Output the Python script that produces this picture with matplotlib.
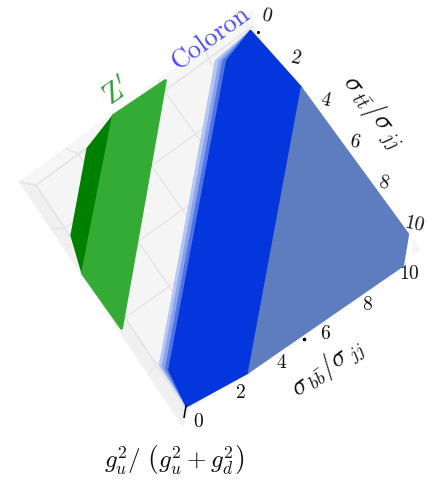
import matplotlib
matplotlib.use('Agg')
import matplotlib.pyplot as plt
from mpl_toolkits.mplot3d.art3d import Poly3DCollection

# chart values: sigma_tt/sigma_jj, sigma_bb/sigma_jj at g = 0 plane
zprime_face_tt = [-0.43, -0.33, 6.22, 3.73]
zprime_face_bb = [3.91, 6.25, -0.33, -0.40]
zprime_side_tt = [-0.43, 0.01, 2.33, 3.73]
zprime_side_bb = [3.91, 2.40, 0.05, -0.40]
coloron_tt = [0.05, 2.88, 10.10, 9.84]
coloron_bb = [9.85, 10.09, 2.59, 0.05]
coloron_edge_tt = [[8.10, 0.18], [8.20, 0.28], [8.31, 0.36], [8.43, 0.44]]
coloron_edge_bb = [[0.07, 8.18], [0.13, 8.28], [0.20, 8.38], [0.26, 8.50]]
upper_tt = [2.88, 9.32, 10.11, 10.10]
upper_bb = [10.09, 10.01, 9.21, 2.59]
corner_tt = [9.32, 10.6, 10.11]
corner_bb = [10.01, 10.6, 9.21]
tick_values = [0, 2, 4, 6, 8]
tick_labels = ['0', '2', '4', '6', '8', '10']

plt.rcParams['mathtext.fontset'] = 'cm'
plt.rcParams['font.family'] = 'cmr10'
plt.rcParams['axes.formatter.use_mathtext'] = True
plt.rcParams['grid.color'] = '#E6E6E6'
plt.rcParams['grid.linewidth'] = 1.1

W, H = 426, 483
fig = plt.figure(figsize=(W / 100, H / 100), dpi=100)
ax = fig.add_axes([17.2 / W, 65.1 / H, 393.8 / W, 393.8 / H],
                  projection='3d', computed_zorder=False)
ax.set_xlim(0, 10)
ax.set_ylim(0, 10)
ax.set_zlim(0, 1)
ax.view_init(elev=85.5643, azim=27.0008, roll=62.4232)
ax.set_proj_type('persp', focal_length=0.1742)
ax.set_box_aspect((1, 1, 0.1005), zoom=1)
ax.patch.set_alpha(0)
ax.set_xticks(tick_values)
ax.set_yticks(tick_values)
ax.set_zticks([0])
ax.set_xticklabels([])
ax.set_yticklabels([])
ax.set_zticklabels([])
for a in (ax.xaxis, ax.yaxis, ax.zaxis):
    a.line.set_color((0, 0, 0, 0))
    a.set_tick_params(color=(0, 0, 0, 0))
    a.pane.set_edgecolor((0, 0, 0, 0))
ax.xaxis.set_pane_color('#F6F6F6')
ax.yaxis.set_pane_color('#F0F0F0')
ax.zaxis.set_pane_color('#F5F5F5')


def poly(tt, bb, color, z, lw=1.0):
    verts = [list(zip(tt, bb, [0] * len(tt)))]
    c = Poly3DCollection(verts, facecolor=color, edgecolor=color,
                         linewidths=lw, zorder=z, joinstyle='round')
    ax.add_collection3d(c, autolim=False)


poly(corner_tt, corner_bb, 'white', 2, 1.0)
poly(zprime_side_tt, zprime_side_bb, '#008000', 3, 1.5)
poly(zprime_face_tt, zprime_face_bb, '#33AB35', 4, 2.0)

shades = ['#B7C7F3', '#8AA4EC', '#5074E5', '#0436DD']
for i, shade in enumerate(shades):
    poly(coloron_tt + coloron_edge_tt[i], coloron_bb + coloron_edge_bb[i],
         shade, 5 + i, 1.0)
poly(upper_tt, upper_bb, '#5E7DBE', 9, 1.0)

ax.plot([9.84, 10], [0.05, 0], [0, 1], color='black', lw=1.1, zorder=10)
ax.plot([10.26], [4.90], [0], 'o', color='black', ms=1.6, zorder=10)
ax.plot([0.29], [10.04], [0], 'o', color='black', ms=1.2, zorder=10)


def label(x, y, s, **kw):
    kw.setdefault('color', '#111111')
    fig.text(x / W, 1 - y / H, s, ha='center', va='center', **kw)


tt_pos = [(267, 16), (296, 58), (326, 100), (355, 142), (384, 183), (415, 224)]
bb_pos = [(198, 422), (240, 393), (282, 363), (325, 334), (367, 305), (409, 274)]
for t, (x, y) in zip(tick_labels, tt_pos):
    label(x, y, f'${t}$', fontsize=14, rotation=-12)
for t, (x, y) in zip(tick_labels, bb_pos):
    label(x, y, f'${t}$', fontsize=14)

label(174, 460, r'$g_u^2/\ \left(g_u^2+g_d^2\right)$', fontsize=18)
label(372, 112, r'$\sigma_{\,t\bar{t}}/\sigma_{\,jj}$', fontsize=20, rotation=-52)
label(328, 368, r'$\sigma_{\,b\bar{b}}/\sigma_{\,jj}$', fontsize=19, rotation=36)
label(117, 92, r"$\mathrm{Z}'$", fontsize=21, rotation=35, color='#2E9E3A')
label(211, 38, 'Coloron', fontsize=19, rotation=36, color='#4A4AF5')

fig.savefig('out.png', dpi=100)
